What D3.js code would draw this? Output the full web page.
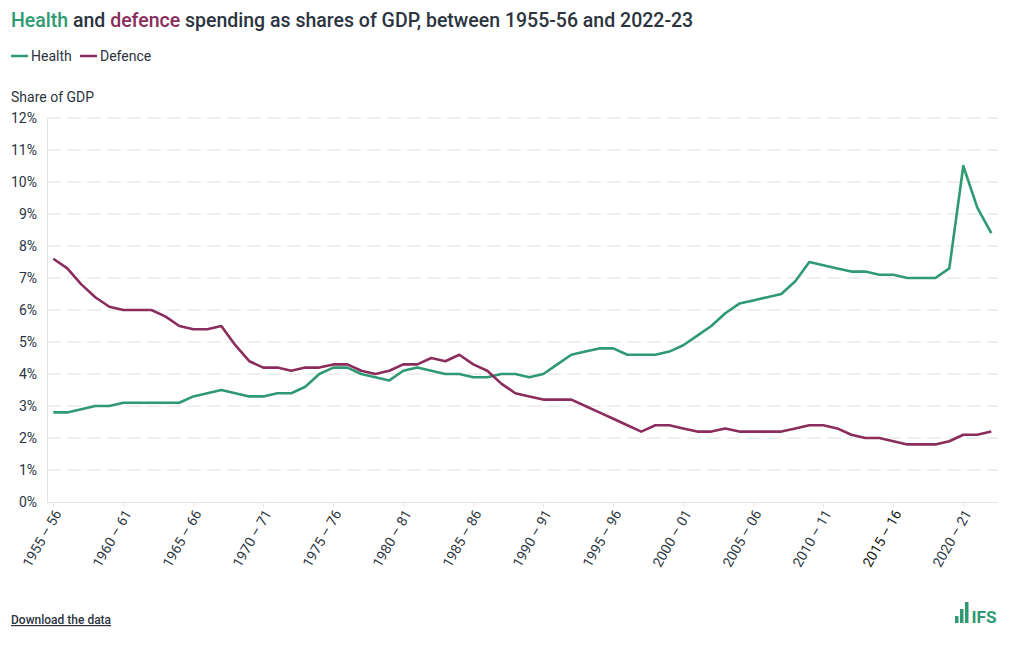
<!DOCTYPE html>
<html>
<head>
<meta charset="utf-8">
<script src="https://cdn.jsdelivr.net/npm/d3@7"></script>
<style>
  html, body { margin: 0; padding: 0; background: #fff; }
  body { width: 1020px; height: 650px; overflow: hidden; font-family: Roboto, "Noto Sans", sans-serif; }
  svg text { font-family: Roboto, "Noto Sans", sans-serif; }
</style>
</head>
<body>
<svg id="chart" width="1020" height="650"></svg>
<script>
// ---- data ----
const startYears = d3.range(1955, 2023); // 1955-56 ... 2022-23 (category labels derived below)
const years = startYears.map(y => y + " – " + String((y + 1) % 100).padStart(2, "0"));
const health = [
  2.8, 2.8, 2.9, 3.0, 3.0, 3.1, 3.1, 3.1, 3.1, 3.1,
  3.3, 3.4, 3.5, 3.4, 3.3, 3.3, 3.4, 3.4, 3.6, 4.0,
  4.2, 4.2, 4.0, 3.9, 3.8, 4.1, 4.2, 4.1, 4.0, 4.0,
  3.9, 3.9, 4.0, 4.0, 3.9, 4.0, 4.3, 4.6, 4.7, 4.8,
  4.8, 4.6, 4.6, 4.6, 4.7, 4.9, 5.2, 5.5, 5.9, 6.2,
  6.3, 6.4, 6.5, 6.9, 7.5, 7.4, 7.3, 7.2, 7.2, 7.1,
  7.1, 7.0, 7.0, 7.0, 7.3, 10.5, 9.2, 8.4
];
const defence = [
  7.6, 7.3, 6.8, 6.4, 6.1, 6.0, 6.0, 6.0, 5.8, 5.5,
  5.4, 5.4, 5.5, 4.9, 4.4, 4.2, 4.2, 4.1, 4.2, 4.2,
  4.3, 4.3, 4.1, 4.0, 4.1, 4.3, 4.3, 4.5, 4.4, 4.6,
  4.3, 4.1, 3.7, 3.4, 3.3, 3.2, 3.2, 3.2, 3.0, 2.8,
  2.6, 2.4, 2.2, 2.4, 2.4, 2.3, 2.2, 2.2, 2.3, 2.2,
  2.2, 2.2, 2.2, 2.3, 2.4, 2.4, 2.3, 2.1, 2.0, 2.0,
  1.9, 1.8, 1.8, 1.8, 1.9, 2.1, 2.1, 2.2
];
const yTicks = [0, 1, 2, 3, 4, 5, 6, 7, 8, 9, 10, 11, 12];
const xTickLabels = ["1955 – 56", "1960 – 61", "1965 – 66", "1970 – 71", "1975 – 76", "1980 – 81",
  "1985 – 86", "1990 – 91", "1995 – 96", "2000 – 01", "2005 – 06", "2010 – 11", "2015 – 16", "2020 – 21"];
const seriesNames = ["Health", "Defence"];

// ---- styles ----
const GREEN = "#2f9a72";
const PURPLE = "#8a2d5c";
const TEXT = "#2b3440";

const svg = d3.select("#chart");
const plot = { left: 47, right: 998, top: 118, bottom: 502 };

const x = d3.scalePoint().domain(years).range([53.3, 991.3]);
const y = d3.scaleLinear().domain([0, 12]).range([plot.bottom, plot.top]);

// Title
const title = svg.append("text").attr("x", 11).attr("y", 27)
  .attr("font-size", 19.5).attr("font-weight", 500).attr("fill", TEXT);
title.append("tspan").attr("fill", GREEN).text("Health");
title.append("tspan").text(" and ");
title.append("tspan").attr("fill", PURPLE).text("defence");
title.append("tspan").text(" spending as shares of GDP, between 1955-56 and 2022-23");

// Legend
const legend = svg.append("g");
const lgItems = [{ name: seriesNames[0], c: GREEN, x: 11 }, { name: seriesNames[1], c: PURPLE, x: 80 }];
lgItems.forEach(d => {
  legend.append("line").attr("x1", d.x).attr("x2", d.x + 17).attr("y1", 56).attr("y2", 56)
    .attr("stroke", d.c).attr("stroke-width", 2.5);
  legend.append("text").attr("x", d.x + 20).attr("y", 61).attr("font-size", 14)
    .attr("fill", TEXT).text(d.name);
});

// Y axis label
svg.append("text").attr("x", 11).attr("y", 102).attr("font-size", 14).attr("fill", TEXT).text("Share of GDP");

// Gridlines
svg.append("g").selectAll("line").data(yTicks.filter(t => t > 0)).join("line")
  .attr("x1", plot.left).attr("x2", plot.right)
  .attr("y1", d => y(d)).attr("y2", d => y(d))
  .attr("stroke", "#dedede").attr("stroke-width", 1).attr("stroke-dasharray", "14,6");

// Y axis
const yAxis = svg.append("g").attr("transform", `translate(${plot.left},0)`)
  .call(d3.axisLeft(y).tickValues(yTicks).tickFormat(d => d + "%").tickSize(0).tickPadding(10));
yAxis.select(".domain").attr("stroke", "#e3e3e3");
yAxis.selectAll("text").attr("font-size", 14).attr("fill", TEXT)
  .attr("font-family", "Roboto, sans-serif");

// X axis
const xAxis = svg.append("g").attr("transform", `translate(0,${plot.bottom})`)
  .call(d3.axisBottom(x).tickValues(xTickLabels).tickSize(5).tickSizeOuter(0));
xAxis.select(".domain").attr("stroke", "#e3e3e3").attr("d", `M${plot.left},0.5H${plot.right}`);
xAxis.selectAll(".tick line").attr("stroke", "#e3e3e3");
xAxis.selectAll("text")
  .attr("font-size", 14).attr("fill", d => d === "2015 – 16" ? "#111" : TEXT)
  .attr("font-family", "Roboto, sans-serif")
  .attr("text-anchor", "end")
  .attr("dy", "0.35em")
  .attr("transform", "translate(4,9) rotate(-60)")
  .attr("x", 0).attr("y", 0);

// Lines
const line = d3.line().x((d, i) => x(years[i])).y(d => y(d));
svg.append("path").datum(health).attr("d", line)
  .attr("fill", "none").attr("stroke", GREEN).attr("stroke-width", 2.6).attr("stroke-linejoin", "round");
svg.append("path").datum(defence).attr("d", line)
  .attr("fill", "none").attr("stroke", PURPLE).attr("stroke-width", 2.6).attr("stroke-linejoin", "round");

// Footer link
svg.append("text").attr("x", 11).attr("y", 624).attr("font-size", 12).attr("font-weight", 500)
  .attr("fill", TEXT).attr("text-decoration", "underline").text("Download the data");

// IFS logo
const logo = svg.append("g").attr("transform", "translate(955,602)");
const bars = [{ x: 0, h: 7 }, { x: 5, h: 14 }, { x: 10, h: 21 }];
logo.selectAll("rect").data(bars).join("rect")
  .attr("x", d => d.x).attr("y", d => 21 - d.h).attr("width", 3.5).attr("height", d => d.h)
  .attr("fill", GREEN);
logo.append("text").attr("x", 16.5).attr("y", 21).attr("font-size", 17).attr("font-weight", 700)
  .attr("fill", GREEN).attr("textLength", 25).attr("lengthAdjust", "spacingAndGlyphs")
  .text("IFS");
</script>
</body>
</html>
